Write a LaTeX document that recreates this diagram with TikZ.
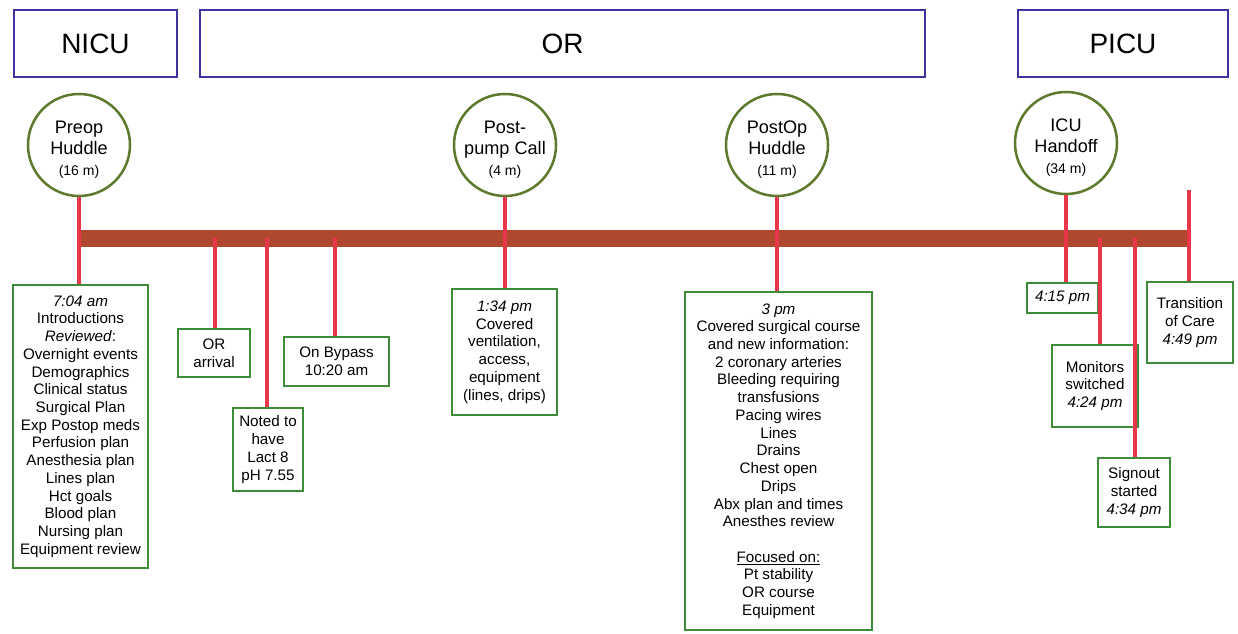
\documentclass[tikz,border=0pt]{standalone}
\usepackage{fontspec}
\setmainfont{Liberation Sans}
\definecolor{hdrblue}{HTML}{3F35A0}
\definecolor{boxgreen}{HTML}{3E8B3A}
\definecolor{circgreen}{HTML}{5E7A2E}
\definecolor{barbrown}{HTML}{B0482F}
\definecolor{stemred}{HTML}{E8364A}
\tikzset{
  x=0.75pt, y=-0.75pt,
  hdr/.style 2 args={draw=hdrblue, line width=1.8pt, rectangle, minimum width=#1*0.75pt, minimum height=#2*0.75pt, inner sep=0pt, font=\fontsize{21}{24}\selectfont},
  gbox/.style 2 args={draw=boxgreen, line width=1.9pt, fill=white, rectangle, minimum width=#1*0.75pt, minimum height=#2*0.75pt, inner sep=0pt, align=center, font=\fontsize{11.4}{13.3}\selectfont},
  huddle/.style={draw=circgreen, line width=1.9pt, fill=white, circle, minimum size=102*0.75pt, inner sep=-6pt, align=center, font=\fontsize{13.6}{15.8}\selectfont},
  stem/.style={draw=stemred, line width=2.3pt},
}
\newcommand{\sm}[1]{{\fontsize{10.5}{12}\selectfont #1}}
\newcommand{\up}{\rule{0pt}{16pt}}
\begin{document}
\begin{tikzpicture}
\useasboundingbox (0,0) rectangle (1238,634);
% headers
\node[hdr={163}{67}] (nicu) at (95.5,43.5) {NICU};
\node[hdr={725}{67}] (or) at (562.5,43.5) {OR};
\node[hdr={210}{67}] (picu) at (1123,43.5) {PICU};
% timeline bar
\node[fill=barbrown, rectangle, minimum width=1108*0.75pt, minimum height=17*0.75pt, inner sep=0pt] (bar) at (634,238.5) {};
% coordinates on bar
\coordinate (tOR) at (215,238);
\coordinate (tNoted) at (267,238);
\coordinate (tBypass) at (335,238);
\coordinate (tMon) at (1100,238);
\coordinate (tSign) at (1135,238);
\coordinate (tTop) at (1189,190);
% circles
\node[huddle] (c1) at (79,145) {\up Preop\\Huddle\\\sm{(16 m)}};
\node[huddle] (c2) at (505,145) {\up Post-\\pump Call\\\sm{(4 m)}};
\node[huddle] (c3) at (777,145) {\up PostOp\\Huddle\\\sm{(11 m)}};
\node[huddle] (c4) at (1066,143) {\up ICU\\Handoff\\\sm{(34 m)}};
% boxes
\node[gbox={135}{283}] (b1) at (80.5,426.5) {\textit{7:04 am}\\Introductions\\\textit{Reviewed}:\\Overnight events\\Demographics\\Clinical status\\Surgical Plan\\Exp Postop meds\\Perfusion plan\\Anesthesia plan\\Lines plan\\Hct goals\\Blood plan\\Nursing plan\\Equipment review};
\node[gbox={72}{48}] (bOR) at (214,353) {OR\\arrival};
\node[gbox={70}{83}] (bNoted) at (268,449.5) {Noted to\\have\\Lact 8\\pH 7.55};
\node[gbox={105}{49}] (bBypass) at (336.5,361.5) {On Bypass\\10:20 am};
\node[gbox={105}{126}] (b2) at (504.5,352) {\textit{1:34 pm}\\Covered\\ventilation,\\access,\\equipment\\(lines, drips)};
\node[gbox={187}{338}] (b3) at (778.5,461) {\textit{3 pm}\\Covered surgical course\\and new information:\\2 coronary arteries\\Bleeding requiring\\transfusions\\Pacing wires\\Lines\\Drains\\Chest open\\Drips\\Abx plan and times\\Anesthes review\\[13.3pt]\underline{Focused on:}\\Pt stability\\OR course\\Equipment};
\node[gbox={71}{30}] (b4) at (1062.5,298) {\textit{4:15 pm}};
\node[gbox={86}{82}] (bMon) at (1095,386) {Monitors\\switched\\\textit{4:24 pm}};
\node[gbox={72}{69}] (bSign) at (1134,492.5) {Signout\\started\\\textit{4:34 pm}};
\node[gbox={86}{81}] (bTrans) at (1190,322.5) {Transition\\of Care\\\textit{4:49 pm}};
% stems
\draw[stem] (c1.south) -- (c1.south |- b1.north);
\draw[stem] (c2.south) -- (c2.south |- b2.north);
\draw[stem] (c3.south) -- (c3.south |- b3.north);
\draw[stem] (c4.south) -- (c4.south |- b4.north);
\draw[stem] (tOR) -- (tOR |- bOR.north);
\draw[stem] (tNoted) -- (tNoted |- bNoted.north);
\draw[stem] (tBypass) -- (tBypass |- bBypass.north);
\draw[stem] (tMon) -- (tMon |- bMon.north);
\draw[stem] (tSign) -- (tSign |- bSign.north);
\draw[stem] (tTop) -- (tTop |- bTrans.north);
\end{tikzpicture}
\end{document}
